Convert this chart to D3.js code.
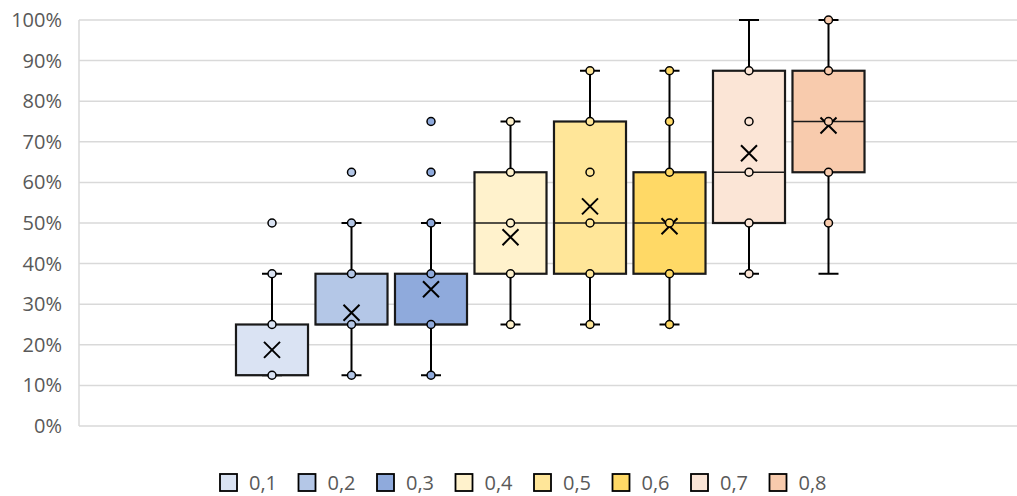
<!DOCTYPE html>
<html>
<head>
<meta charset="utf-8">
<script src="https://cdn.jsdelivr.net/npm/d3@7"></script>
<style>
  body { margin: 0; background: #fff; }
  text { font-family: "Open Sans", "Noto Sans", sans-serif; }
</style>
</head>
<body>
<svg class="chart" width="1017" height="496"></svg>
<script>
// data (shares, 0..1)
var series = ["0,1", "0,2", "0,3", "0,4", "0,5", "0,6", "0,7", "0,8"];
var whiskerLow  = [0.125, 0.125, 0.125, 0.25, 0.25, 0.25, 0.375, 0.375];
var q1          = [0.125, 0.25, 0.25, 0.375, 0.375, 0.375, 0.5, 0.625];
var median      = [0.125, 0.25, 0.25, 0.5, 0.5, 0.5, 0.625, 0.75];
var q3          = [0.25, 0.375, 0.375, 0.625, 0.75, 0.625, 0.875, 0.875];
var whiskerHigh = [0.375, 0.5, 0.5, 0.75, 0.875, 0.875, 1.0, 1.0];
var mean        = [0.1875, 0.279, 0.337, 0.465, 0.541, 0.492, 0.672, 0.740];
var points = [
    [0.125, 0.25, 0.375, 0.5],
    [0.125, 0.25, 0.375, 0.5, 0.625],
    [0.125, 0.25, 0.375, 0.5, 0.625, 0.75],
    [0.25, 0.375, 0.5, 0.625, 0.75],
    [0.25, 0.375, 0.5, 0.625, 0.75, 0.875],
    [0.25, 0.375, 0.5, 0.625, 0.75, 0.875],
    [0.375, 0.5, 0.625, 0.75, 0.875],
    [0.5, 0.625, 0.75, 0.875, 1.0]
];
var yTicks = [0, 0.1, 0.2, 0.3, 0.4, 0.5, 0.6, 0.7, 0.8, 0.9, 1.0];

var colors = ["#dae3f3", "#b4c7e7", "#8faadc", "#fff2cc", "#ffe699", "#ffd966", "#fbe5d6", "#f8cbad"];

var svg = d3.select(".chart"),
    plot = { left: 79, right: 1017, top: 20, bottom: 426 };

var x = d3.scaleBand().domain(series).range([232.25, 868.25])
        .paddingInner(0.094).paddingOuter(0.047),
    y = d3.scaleLinear().domain([0, 1]).range([plot.bottom, plot.top]);

var rows = series.map(function(s, i) {
    return { name: s, i: i, lo: whiskerLow[i], q1: q1[i], med: median[i],
             q3: q3[i], hi: whiskerHigh[i], mean: mean[i], pts: points[i] };
});

// gridlines
svg.append("g").attr("class", "grid")
    .selectAll("line").data(yTicks).enter().append("line")
    .attr("x1", plot.left).attr("x2", plot.right)
    .attr("y1", function(d) { return y(d); })
    .attr("y2", function(d) { return y(d); })
    .attr("stroke", "#d9d9d9").attr("stroke-width", 1.5);

svg.append("line")
    .attr("x1", plot.left).attr("x2", plot.left)
    .attr("y1", y(1)).attr("y2", y(0))
    .attr("stroke", "#d9d9d9").attr("stroke-width", 1.5);

// y axis labels
var yAxis = svg.append("g")
    .attr("transform", "translate(" + plot.left + ",0)")
    .call(d3.axisLeft(y).tickValues(yTicks).tickFormat(d3.format(".0%")).tickSize(0).tickPadding(17));
yAxis.select(".domain").remove();
yAxis.selectAll("text")
    .style("font-family", "'Open Sans', sans-serif")
    .style("font-size", "20px")
    .attr("fill", "#595959");

var g = svg.append("g").attr("class", "boxes");

var box = g.selectAll(".box").data(rows).enter().append("g")
    .attr("class", "box");

function cx(d) { return x(d.name) + x.bandwidth() / 2; }

// whiskers
box.append("line")
    .attr("x1", cx).attr("x2", cx)
    .attr("y1", function(d) { return y(d.lo); })
    .attr("y2", function(d) { return y(d.hi); })
    .attr("stroke", "#000").attr("stroke-width", 2);

["lo", "hi"].forEach(function(k) {
    box.append("line")
        .attr("x1", function(d) { return cx(d) - 10; })
        .attr("x2", function(d) { return cx(d) + 10; })
        .attr("y1", function(d) { return y(d[k]); })
        .attr("y2", function(d) { return y(d[k]); })
        .attr("stroke", "#000").attr("stroke-width", 2);
});

// box
box.append("rect")
    .attr("x", function(d) { return x(d.name); })
    .attr("y", function(d) { return y(d.q3); })
    .attr("width", x.bandwidth())
    .attr("height", function(d) { return y(d.q1) - y(d.q3); })
    .attr("fill", function(d) { return colors[d.i]; })
    .attr("stroke", "#1a1a1a").attr("stroke-width", 2.2);

// median
box.append("line")
    .attr("x1", function(d) { return x(d.name); })
    .attr("x2", function(d) { return x(d.name) + x.bandwidth(); })
    .attr("y1", function(d) { return y(d.med); })
    .attr("y2", function(d) { return y(d.med); })
    .attr("stroke", "#1a1a1a").attr("stroke-width", 1.5);

// mean marker
box.append("path")
    .attr("d", function(d) {
        var px = cx(d), py = y(d.mean), s = 8;
        return "M" + (px - s) + "," + (py - s) + "L" + (px + s) + "," + (py + s) +
               "M" + (px - s) + "," + (py + s) + "L" + (px + s) + "," + (py - s);
    })
    .attr("stroke", "#000").attr("stroke-width", 2).attr("fill", "none");

// data points
box.selectAll("circle")
    .data(function(d) { return d.pts.map(function(v) { return { v: v, d: d }; }); })
    .enter().append("circle")
    .attr("cx", function(p) { return cx(p.d); })
    .attr("cy", function(p) { return y(p.v); })
    .attr("r", 4)
    .attr("fill", function(p) { return colors[p.d.i]; })
    .attr("stroke", "#000").attr("stroke-width", 1.5);

// legend
var legend = svg.append("g").attr("class", "legend")
    .selectAll("g").data(series).enter().append("g")
    .attr("transform", function(d, i) { return "translate(" + (220 + i * 78.5) + ",474)"; });

legend.append("rect")
    .attr("width", 17).attr("height", 17)
    .attr("fill", function(d, i) { return colors[i]; })
    .attr("stroke", "#000").attr("stroke-width", 1.8);

legend.append("text")
    .attr("x", 29).attr("y", 16)
    .style("font-size", "20px")
    .attr("fill", "#595959")
    .text(function(d) { return d; });
</script>
</body>
</html>
